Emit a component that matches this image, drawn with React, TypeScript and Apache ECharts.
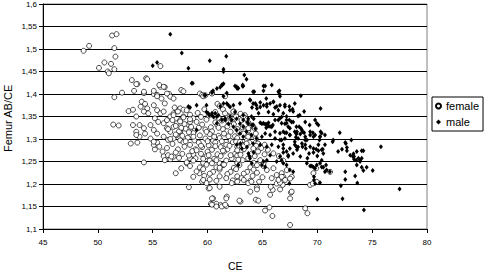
import React, { useEffect, useRef } from "react";
import * as echarts from "echarts";

type P = [number, number];

const seriesNames = ["female", "male"];
const xTitle = "CE";
const yTitle = "Femur AB/CE";

const femaleOutliers: P[] = [
  [48.7, 1.496], [49.2, 1.507], [51.3, 1.53], [51.7, 1.533], [51.5, 1.502], [51.6, 1.483],
  [50.1, 1.458], [50.6, 1.47], [51.2, 1.467], [51.5, 1.455], [50.9, 1.45], [51.0, 1.446],
  [51.5, 1.393], [52.2, 1.403], [51.4, 1.332], [51.9, 1.33], [55.7, 1.462],
];

const femaleLeft: P[] = [
  [53.1, 1.431], [53.6, 1.422], [53.3, 1.407], [54.4, 1.435], [54.5, 1.433], [54.2, 1.402],
  [55.1, 1.4], [55.1, 1.407], [55.4, 1.398], [55.7, 1.416], [56.1, 1.415], [55.8, 1.39], [56.5, 1.4],
  [52.8, 1.362], [53.2, 1.365], [53.5, 1.35], [53.9, 1.372], [54.0, 1.383], [54.3, 1.378],
  [54.5, 1.368], [54.2, 1.361], [54.6, 1.357], [53.2, 1.331], [53.8, 1.331], [54.2, 1.324],
  [53.5, 1.316], [54.3, 1.312], [53.0, 1.29], [53.6, 1.292], [53.8, 1.305], [53.5, 1.309],
  [54.2, 1.248], [55.2, 1.277], [55.1, 1.287], [55.4, 1.292], [54.8, 1.301],
  [55.1, 1.375], [55.4, 1.364], [55.7, 1.357], [56.0, 1.361], [55.2, 1.346], [55.5, 1.338],
  [54.8, 1.331], [55.1, 1.32], [55.4, 1.312], [55.1, 1.294], [56.0, 1.335], [56.3, 1.342],
  [56.6, 1.35], [56.9, 1.357], [57.2, 1.364], [56.3, 1.324], [56.6, 1.316], [56.9, 1.327],
  [57.2, 1.335], [57.5, 1.342], [57.8, 1.35], [56.0, 1.305], [56.4, 1.298], [56.9, 1.301],
  [57.2, 1.309], [57.5, 1.316], [57.8, 1.324], [58.1, 1.331], [58.4, 1.338], [58.7, 1.346],
  [57.6, 1.409], [57.8, 1.406], [59.3, 1.401], [59.5, 1.398], [56.6, 1.394], [56.9, 1.39],
  [56.1, 1.379], [55.4, 1.395], [54.2, 1.405], [53.5, 1.422], [55.6, 1.42], [56.0, 1.416],
  [56.3, 1.401], [57.0, 1.37], [57.5, 1.368], [57.8, 1.365], [59.6, 1.395], [59.8, 1.397],
  [60.4, 1.402], [61.6, 1.395], [60.4, 1.401], [60.9, 1.378], [61.1, 1.373],
  [56.0, 1.262], [56.1, 1.253], [56.6, 1.255], [56.4, 1.264], [56.9, 1.261], [57.1, 1.224],
  [56.7, 1.261], [57.6, 1.235], [58.1, 1.246], [58.4, 1.257], [58.7, 1.265], [58.3, 1.193],
  [58.7, 1.216], [59.25, 1.224], [59.5, 1.205], [55.9, 1.272], [55.6, 1.283],
];

const femaleCore: P[] = [
  [57.3, 1.361], [58.1, 1.364], [59.1, 1.358], [59.7, 1.366], [60.7, 1.36], [61.4, 1.366], [62.4, 1.361], [63.0, 1.356],
  [56.9, 1.353], [57.8, 1.348], [58.4, 1.354], [59.4, 1.349], [60.1, 1.352], [61.0, 1.347], [61.8, 1.352], [62.6, 1.35], [63.4, 1.353],
  [56.8, 1.342], [57.5, 1.339], [58.4, 1.344], [59.0, 1.338], [59.9, 1.343], [60.7, 1.337], [61.3, 1.341], [62.3, 1.338], [63.1, 1.342], [63.7, 1.337],
  [57.1, 1.329], [57.9, 1.333], [58.5, 1.327], [59.5, 1.332], [60.3, 1.326], [60.9, 1.331], [61.8, 1.328], [62.4, 1.333], [63.2, 1.326], [64.1, 1.33],
  [56.4, 1.322], [57.4, 1.317], [58.0, 1.323], [58.8, 1.318], [59.8, 1.321], [60.4, 1.317], [61.4, 1.322], [62.1, 1.316], [62.7, 1.322], [63.7, 1.319], [64.3, 1.323],
  [57.1, 1.31], [57.7, 1.307], [58.7, 1.313], [59.3, 1.308], [60.2, 1.311], [61.0, 1.307], [61.5, 1.312], [62.5, 1.306], [63.3, 1.312], [63.9, 1.307],
  [56.6, 1.3], [57.5, 1.297], [58.2, 1.303], [58.8, 1.297], [59.8, 1.301], [60.5, 1.296], [61.1, 1.302], [62.1, 1.296], [62.7, 1.302], [63.6, 1.297], [64.4, 1.301],
  [56.8, 1.289], [57.8, 1.293], [58.4, 1.287], [59.2, 1.292], [60.1, 1.286], [60.7, 1.292], [61.7, 1.287], [62.3, 1.293], [63.2, 1.287], [63.8, 1.292],
  [56.3, 1.28], [57.3, 1.277], [57.9, 1.283], [58.9, 1.277], [59.5, 1.282], [60.4, 1.276], [61.2, 1.282], [61.8, 1.277], [62.7, 1.283], [63.3, 1.277], [64.3, 1.282],
  [57.1, 1.27], [57.7, 1.267], [58.6, 1.273], [59.4, 1.267], [60.0, 1.272], [60.9, 1.266], [61.5, 1.272], [62.5, 1.267], [63.0, 1.273], [64.0, 1.267], [64.6, 1.272],
  [57.4, 1.258], [58.3, 1.263], [58.9, 1.257], [59.9, 1.262], [60.6, 1.256], [61.2, 1.262], [62.2, 1.257], [62.7, 1.263], [63.7, 1.257], [64.3, 1.262],
  [58.1, 1.248], [58.7, 1.252], [59.6, 1.247], [60.2, 1.252], [61.1, 1.246], [61.7, 1.252], [62.7, 1.247], [63.2, 1.253], [64.2, 1.247],
  [58.4, 1.24], [59.3, 1.237], [59.9, 1.243], [60.8, 1.237], [61.4, 1.242], [62.4, 1.236], [62.9, 1.242], [63.9, 1.237], [64.5, 1.242],
  [59.0, 1.228], [59.6, 1.233], [60.5, 1.227], [61.1, 1.232], [62.1, 1.227], [62.6, 1.233], [63.6, 1.227], [64.2, 1.232],
  [59.7, 1.218], [60.2, 1.223], [61.1, 1.217], [61.8, 1.222], [62.7, 1.217], [63.3, 1.223], [64.1, 1.218],
  [60.2, 1.21], [60.8, 1.207], [61.7, 1.213], [62.3, 1.208], [63.1, 1.213], [63.9, 1.207],
  [59.2, 1.325], [59.9, 1.316], [60.6, 1.305], [61.3, 1.295], [62.0, 1.285], [62.7, 1.275], [60.0, 1.295],
  [60.7, 1.284], [61.4, 1.274], [62.1, 1.264], [62.8, 1.254], [59.4, 1.285], [60.1, 1.264], [60.8, 1.253],
  [61.5, 1.243], [58.7, 1.305], [59.0, 1.275], [61.9, 1.306], [62.6, 1.294], [63.3, 1.284], [63.0, 1.265],
  [61.1, 1.236], [60.4, 1.246], [59.6, 1.256], [58.3, 1.315], [58.0, 1.295], [57.6, 1.325], [61.0, 1.325],
  [61.9, 1.337], [62.9, 1.315], [63.7, 1.305], [64.6, 1.29], [64.9, 1.28], [65.2, 1.266], [64.8, 1.253],
  [65.1, 1.24], [64.5, 1.225], [65.0, 1.215], [64.7, 1.205], [63.5, 1.345], [63.8, 1.325], [64.4, 1.312],
];

const femaleLow: P[] = [
  [60.1, 1.19], [60.5, 1.168], [60.3, 1.156], [60.8, 1.156], [61.2, 1.153], [61.75, 1.172], [61.7, 1.151],
  [59.9, 1.202], [59.6, 1.209], [60.2, 1.191], [60.4, 1.168], [60.4, 1.154], [60.8, 1.15], [61.3, 1.15],
  [61.6, 1.154], [61.1, 1.194], [61.7, 1.168], [62.2, 1.202], [62.7, 1.205], [63.3, 1.209], [63.7, 1.202],
  [64.0, 1.205], [63.0, 1.161], [63.9, 1.183], [64.4, 1.165], [62.9, 1.163], [64.5, 1.193], [64.5, 1.188],
  [64.63, 1.163], [65.7, 1.176], [65.94, 1.187], [65.76, 1.194], [66.61, 1.188], [66.85, 1.198], [66.3, 1.201],
  [65.91, 1.129], [65.64, 1.148], [65.24, 1.141], [67.6, 1.181], [67.52, 1.168], [67.52, 1.109],
  [68.9, 1.146], [69.1, 1.135], [67.67, 1.183], [66.6, 1.203],
];

const femaleRight: P[] = [
  [64.42, 1.285], [65.1, 1.246], [65.4, 1.231], [66.0, 1.235], [66.3, 1.22], [66.76, 1.224], [65.85, 1.213],
  [66.46, 1.209], [66.9, 1.216], [71.17, 1.227], [69.9, 1.235], [69.65, 1.224], [69.34, 1.198], [69.59, 1.201],
  [67.67, 1.216], [65.2, 1.287], [65.5, 1.276], [66.0, 1.268], [66.5, 1.262], [66.9, 1.252], [69.95, 1.205],
  [67.06, 1.209], [67.52, 1.212], [66.76, 1.216], [67.22, 1.231], [63.56, 1.29], [64.17, 1.279], [62.96, 1.294],
  [63.26, 1.35], [63.71, 1.324], [61.59, 1.357], [62.04, 1.35], [62.35, 1.361],
];

const maleUpper: P[] = [
  [56.6, 1.533], [57.65, 1.491], [58.25, 1.457], [55.0, 1.463], [55.4, 1.47], [58.65, 1.424], [60.2, 1.474],
  [61.7, 1.484], [61.45, 1.455], [61.45, 1.45], [61.3, 1.42], [61.45, 1.423], [60.85, 1.412], [60.5, 1.407],
  [61.75, 1.402], [61.45, 1.395], [59.8, 1.397], [62.5, 1.418], [63.35, 1.442], [63.55, 1.433], [63.25, 1.418],
  [62.8, 1.413], [63.2, 1.417], [62.7, 1.412], [64.25, 1.405], [65.1, 1.407], [65.25, 1.418], [65.85, 1.42],
  [66.55, 1.407], [66.55, 1.4], [66.45, 1.405], [66.6, 1.395], [65.35, 1.39], [68.5, 1.396], [70.3, 1.368],
  [58.55, 1.424], [59.75, 1.398], [60.4, 1.403], [61.35, 1.42], [61.15, 1.415], [62.65, 1.416], [63.2, 1.42],
  [64.15, 1.405], [65.1, 1.418], [62.95, 1.379],
];

const maleMid: P[] = [
  [58.25, 1.372], [59.0, 1.375], [60.05, 1.357], [60.4, 1.353], [60.7, 1.357], [60.85, 1.35], [59.0, 1.32], [60.85, 1.335],
  [63.85, 1.387], [64.15, 1.379], [64.45, 1.375], [64.8, 1.381], [65.1, 1.375], [65.4, 1.372], [65.7, 1.379], [66.0, 1.383],
  [66.3, 1.372], [66.6, 1.375], [67.05, 1.372], [67.5, 1.364], [67.8, 1.361], [67.95, 1.379], [61.45, 1.379], [61.9, 1.375],
  [62.35, 1.375], [64.65, 1.357], [64.0, 1.35], [63.25, 1.342], [63.7, 1.335], [64.15, 1.331], [64.8, 1.336], [65.1, 1.335],
  [65.4, 1.333], [65.55, 1.329], [65.85, 1.327], [66.15, 1.342], [66.6, 1.346], [67.2, 1.335], [67.8, 1.338], [68.1, 1.327],
  [67.5, 1.324], [62.65, 1.32], [62.95, 1.312], [63.25, 1.305], [63.55, 1.316], [64.0, 1.309], [64.45, 1.301], [64.95, 1.305],
  [65.25, 1.312], [65.7, 1.309], [66.15, 1.301], [66.6, 1.298], [67.05, 1.301], [67.5, 1.309], [67.95, 1.294], [68.25, 1.301],
  [64.15, 1.29], [64.8, 1.287], [65.4, 1.283], [65.85, 1.287], [66.45, 1.283], [66.9, 1.287], [67.5, 1.279], [68.1, 1.283],
  [62.05, 1.35], [62.35, 1.327], [61.6, 1.342], [63.9, 1.386], [64.35, 1.379], [64.8, 1.371], [64.5, 1.368], [64.05, 1.37],
  [65.4, 1.377], [66.0, 1.382], [66.15, 1.37], [65.55, 1.36], [66.0, 1.355], [66.45, 1.364], [66.9, 1.357], [59.9, 1.375],
  [61.15, 1.373], [61.75, 1.379], [62.05, 1.371], [62.5, 1.36], [58.4, 1.37], [63.25, 1.353], [63.7, 1.345], [64.2, 1.345],
  [64.95, 1.334], [65.25, 1.333], [65.55, 1.336], [65.7, 1.328], [65.35, 1.325], [65.95, 1.331], [59.9, 1.36], [60.15, 1.353],
  [60.4, 1.357], [60.55, 1.349], [61.0, 1.353], [61.3, 1.342], [61.6, 1.345], [61.9, 1.334], [62.2, 1.342], [62.65, 1.345],
  [62.95, 1.334], [63.25, 1.327], [63.65, 1.338], [64.05, 1.331], [64.35, 1.323], [66.45, 1.342], [66.75, 1.349],
  [67.05, 1.334], [67.35, 1.327], [67.2, 1.342], [62.66, 1.287], [63.12, 1.279], [63.72, 1.268], [63.87, 1.257],
  [64.03, 1.246], [62.81, 1.242], [63.0, 1.29], [63.6, 1.282], [64.2, 1.27], [63.8, 1.262],
];

const maleRight: P[] = [
  [67.05, 1.376], [67.45, 1.372], [67.75, 1.366], [68.25, 1.351], [68.4, 1.353], [68.8, 1.361], [67.2, 1.35],
  [67.45, 1.342], [67.65, 1.338], [66.75, 1.335], [68.9, 1.338], [69.3, 1.331], [69.8, 1.342], [69.95, 1.335],
  [70.1, 1.331], [68.35, 1.327], [68.5, 1.324], [68.6, 1.32], [68.65, 1.316], [68.8, 1.314], [68.9, 1.298],
  [69.05, 1.298], [67.95, 1.316], [68.1, 1.311], [68.05, 1.304], [66.9, 1.316], [67.2, 1.314], [66.75, 1.298],
  [69.35, 1.316], [69.6, 1.314], [69.65, 1.305], [70.3, 1.316], [70.4, 1.313], [70.25, 1.305], [70.2, 1.298],
  [71.4, 1.294], [72.05, 1.314], [73.1, 1.298], [72.55, 1.292], [72.7, 1.281], [72.25, 1.277], [71.9, 1.272],
  [73.6, 1.272], [74.05, 1.274], [73.25, 1.261], [73.75, 1.257], [73.9, 1.253], [73.35, 1.255], [75.8, 1.283],
  [70.7, 1.287], [70.5, 1.277], [70.1, 1.274], [69.9, 1.277], [69.65, 1.27], [70.55, 1.268], [70.0, 1.262],
  [70.4, 1.253], [70.8, 1.242], [67.95, 1.287], [68.25, 1.282], [68.65, 1.283], [68.95, 1.279], [69.25, 1.268],
  [68.45, 1.261], [69.1, 1.257], [69.5, 1.24], [69.65, 1.237], [69.8, 1.235], [70.4, 1.238], [66.9, 1.279],
  [67.2, 1.272], [67.35, 1.261], [66.75, 1.253], [77.5, 1.189], [74.25, 1.142], [72.3, 1.167], [70.0, 1.166],
  [72.55, 1.21], [72.55, 1.227], [73.65, 1.202], [73.45, 1.218], [74.05, 1.237], [74.5, 1.237], [75.05, 1.23],
  [74.2, 1.23], [73.6, 1.242], [74.05, 1.257], [74.2, 1.274], [72.7, 1.274], [72.6, 1.29], [73.0, 1.264],
  [73.35, 1.261], [73.55, 1.253], [73.9, 1.25], [73.3, 1.267], [72.15, 1.196], [69.7, 1.216], [69.7, 1.209],
  [69.8, 1.201], [70.25, 1.203], [67.45, 1.201], [66.15, 1.316], [66.6, 1.313], [67.05, 1.314], [67.5, 1.309],
  [68.15, 1.316], [68.45, 1.311], [68.9, 1.305], [69.35, 1.309], [69.8, 1.309], [70.25, 1.305], [70.7, 1.309],
  [71.45, 1.298], [68.6, 1.29], [68.9, 1.287], [69.35, 1.283], [69.65, 1.279], [70.1, 1.287], [70.4, 1.276],
  [68.15, 1.276], [67.8, 1.268], [67.35, 1.264], [66.9, 1.27], [66.6, 1.261], [66.3, 1.25], [65.7, 1.264],
  [65.4, 1.253], [65.1, 1.25], [64.95, 1.242], [65.25, 1.238], [66.9, 1.246], [67.2, 1.242], [67.5, 1.231],
  [67.8, 1.227], [69.05, 1.246], [69.35, 1.24], [69.95, 1.242], [70.25, 1.246], [70.55, 1.237], [70.7, 1.227],
  [70.85, 1.231], [71.15, 1.227],
];

const female: P[] = [...femaleOutliers, ...femaleLeft, ...femaleCore, ...femaleLow, ...femaleRight];
const male: P[] = [...maleUpper, ...maleMid, ...maleRight];

const FONT = "'Liberation Sans', Arial, sans-serif";

export default function App() {
  const ref = useRef<HTMLDivElement>(null);
  useEffect(() => {
    if (!ref.current) return;
    const chart = echarts.init(ref.current, null, { renderer: "svg" });
    chart.setOption({
      animation: false,
      backgroundColor: "#fff",
      grid: {
        left: 43, right: 57, top: 4, bottom: 41,
        show: true, borderColor: "#808080", borderWidth: 1, backgroundColor: "transparent",
      },
      xAxis: {
        type: "value", min: 45, max: 80, interval: 5,
        axisLine: { show: true, onZero: false, lineStyle: { color: "#000", width: 1 } },
        axisTick: { show: true, length: 4, lineStyle: { color: "#000" } },
        axisLabel: { margin: 9, fontSize: 8, color: "#000", fontFamily: FONT },
        splitLine: { show: false },
      },
      yAxis: {
        type: "value", min: 1.1, max: 1.6, interval: 0.05,
        axisLine: { show: true, onZero: false, lineStyle: { color: "#000", width: 1 } },
        axisTick: { show: true, length: 4, lineStyle: { color: "#000" } },
        axisLabel: {
          margin: 6, fontSize: 8, color: "#000", fontFamily: FONT,
          formatter: (v: number) => String(Number(v.toFixed(2))).replace(".", ","),
        },
        splitLine: { show: true, lineStyle: { color: "#000", width: 1 } },
      },
      legend: {
        orient: "vertical", left: 432, top: 97,
        backgroundColor: "#fff", borderColor: "#000", borderWidth: 1,
        padding: [3, 4, 3, 3], itemGap: 4, itemWidth: 5, itemHeight: 5, itemTextGap: 3,
        textStyle: { fontSize: 11, color: "#000", fontFamily: FONT, lineHeight: 12 },
        data: [
          { name: seriesNames[0], icon: "circle" },
          { name: seriesNames[1], icon: "diamond" },
        ],
      },
      graphic: [
        {
          type: "text", left: 228, top: 260,
          style: { text: xTitle, fontSize: 10.5, fill: "#000", fontFamily: FONT },
        },
        {
          type: "text", x: 2, y: 152, rotation: Math.PI / 2,
          style: { text: yTitle, fontSize: 11, fill: "#000", fontFamily: FONT, verticalAlign: "top" },
        },
      ],
      series: [
        {
          name: seriesNames[0], type: "scatter", symbol: "circle", symbolSize: 5,
          itemStyle: { color: "#fff", borderColor: "#000", borderWidth: 0.7, opacity: 1 },
          data: female,
        },
        {
          name: seriesNames[1], type: "scatter", symbol: "diamond", symbolSize: [4, 5],
          itemStyle: { color: "#000", opacity: 1 },
          data: male,
        },
      ],
    });
    return () => chart.dispose();
  }, []);
  return (
    <div
      ref={ref}
      style={{ position: "absolute", left: 0, top: 0, width: 484, height: 270 }}
    />
  );
}
